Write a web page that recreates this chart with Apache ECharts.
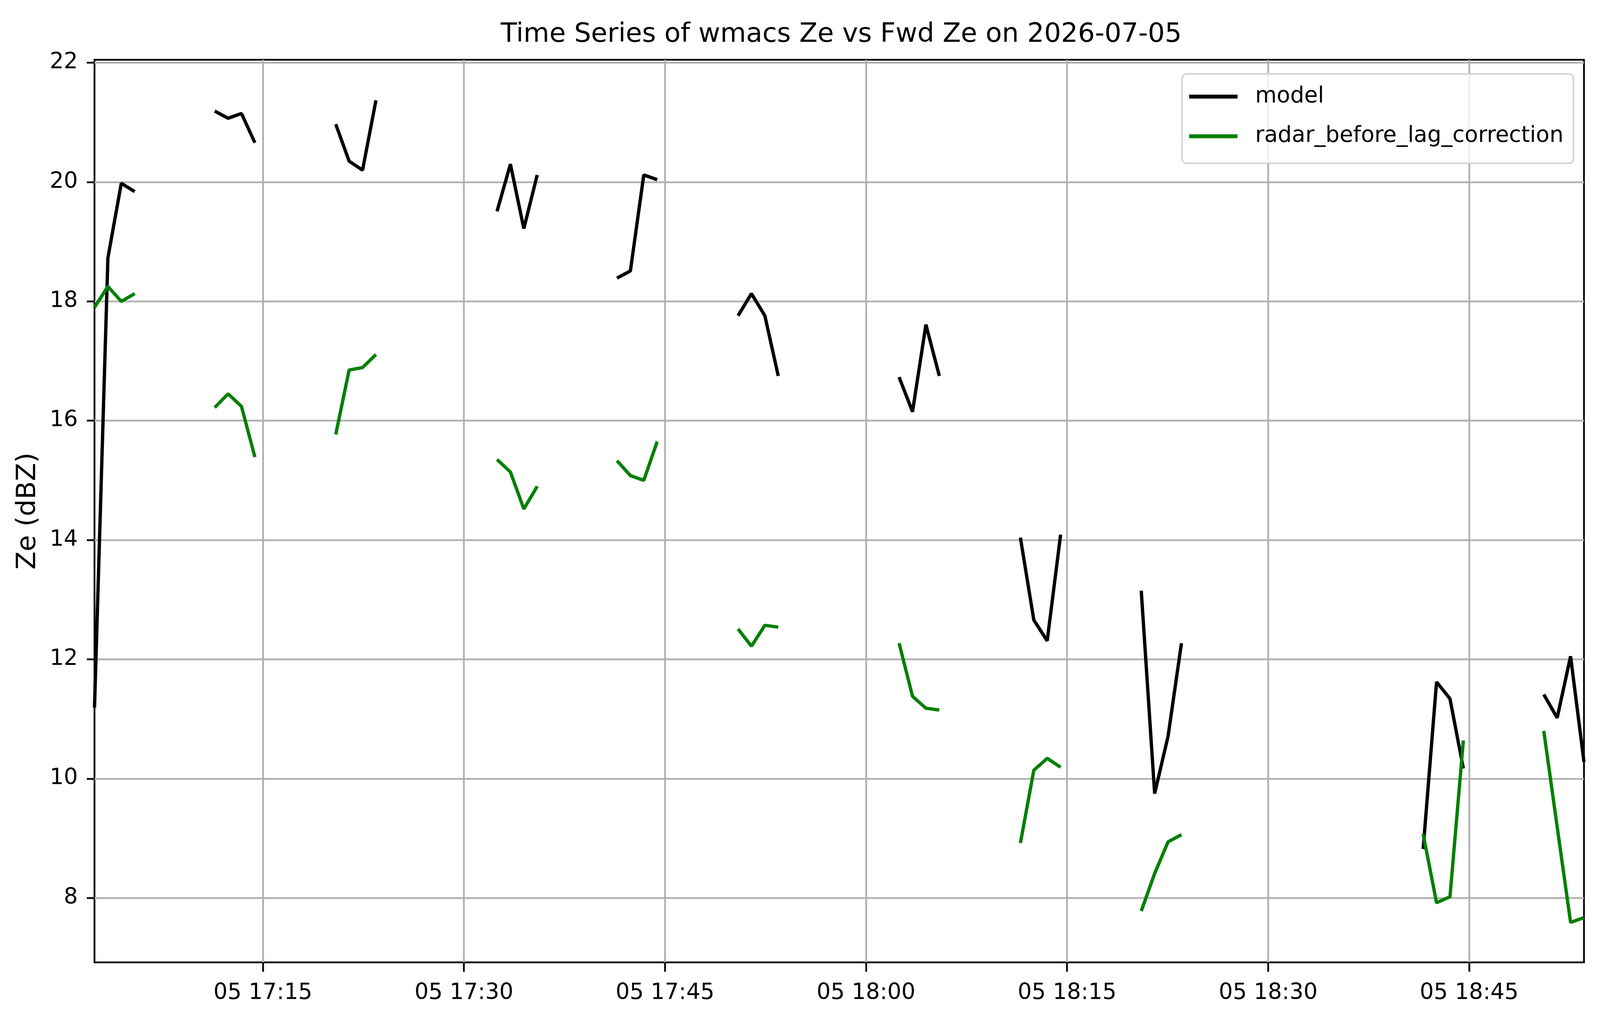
<!DOCTYPE html>
<html>
<head>
<meta charset="utf-8">
<script src="https://cdn.jsdelivr.net/npm/echarts@6/dist/echarts.min.js"></script>
<style>
  html, body { margin: 0; padding: 0; background: #fff; overflow: hidden; }
  #chart { width: 100vw; height: 100vh; }
</style>
</head>
<body>
<div id="chart"></div>
<script>
// timestamps (2026-07-05), one sample per minute in short runs
const day = "2026-07-05"
const times = [
  "17:02:26", "17:03:26", "17:04:26", "17:05:26",
  "17:11:24", "17:12:24", "17:13:24", "17:14:24",
  "17:20:26", "17:21:26", "17:22:26", "17:23:26",
  "17:32:28", "17:33:28", "17:34:28", "17:35:28",
  "17:41:25", "17:42:25", "17:43:25", "17:44:25",
  "17:50:27", "17:51:27", "17:52:27", "17:53:27",
  "18:02:28", "18:03:28", "18:04:28", "18:05:28",
  "18:11:31", "18:12:31", "18:13:31", "18:14:31",
  "18:20:32", "18:21:32", "18:22:32", "18:23:32",
  "18:41:34", "18:42:34", "18:43:34", "18:44:34",
  "18:50:34", "18:51:34", "18:52:34", "18:53:34"
]
const modelZe = [
  11.19, 18.73, 19.98, 19.84,
  21.19, 21.07, 21.15, 20.66,
  20.97, 20.35, 20.20, 21.37,
  19.51, 20.30, 19.22, 20.12,
  18.39, 18.51, 20.12, 20.04,
  17.76, 18.13, 17.76, 16.75,
  16.73, 16.15, 17.61, 16.75,
  14.04, 12.66, 12.31, 14.09,
  13.15, 9.75, 10.71, 12.27,
  8.82, 11.62, 11.34, 10.17,
  11.41, 11.02, 12.05, 10.28
]
const radarZe = [
  17.90, 18.25, 18.00, 18.13,
  16.22, 16.45, 16.24, 15.39,
  15.77, 16.85, 16.89, 17.11,
  15.35, 15.14, 14.52, 14.90,
  15.33, 15.08, 15.00, 15.65,
  12.51, 12.22, 12.57, 12.54,
  12.27, 11.38, 11.18, 11.15,
  8.92, 10.14, 10.34, 10.19,
  7.78, 8.41, 8.94, 9.06,
  9.07, 7.92, 8.02, 10.64,
  10.80, 9.19, 7.59, 7.67
]
const xTicks = ["17:15", "17:30", "17:45", "18:00", "18:15", "18:30", "18:45"]
const yTicks = [8, 10, 12, 14, 16, 18, 20, 22]

const toMs = (t) => echarts.number.parseDate(day + " " + (t.length === 5 ? t + ":00" : t)).getTime()
const xs = times.map(toMs)
const xTickMs = xTicks.map(toMs)

// missing minutes are NaN in the source, so break the line where samples are far apart
function buildSeries(values) {
  const out = []
  for (let i = 0; i < xs.length; i++) {
    if (i > 0 && xs[i] - xs[i - 1] > 2 * 60 * 1000) {
      out.push([(xs[i] + xs[i - 1]) / 2, null])
    }
    out.push([xs[i], values[i]])
  }
  return out
}

const pad2 = (n) => (n < 10 ? "0" : "") + n
const font = "DejaVu Sans"

var chartDom = document.getElementById("chart")
var myChart = echarts.init(chartDom)

// layout was measured on a 4995x2631 canvas, scale it to whatever the page really is
function buildOption() {
  const sx = chartDom.clientWidth / 4995
  const sy = chartDom.clientHeight / 2631
  const k = Math.min(sx, sy)
  const tickFont = 69 * k
  const bigFont = 83 * k
  const axisStyle = {
    axisLine: { show: false },
    splitLine: { show: true, lineStyle: { color: "#b0b0b0", width: 5.5 * k } }
  }
  return {
    animation: false,
    backgroundColor: "#ffffff",
    title: {
      text: "Time Series of wmacs Ze vs Fwd Ze on 2026-07-05",
      left: 2620 * sx,
      textAlign: "center",
      top: 88 * sy - 0.55 * bigFont,
      textStyle: { fontFamily: font, fontSize: bigFont, fontWeight: "normal", color: "#000" }
    },
    legend: {
      orient: "vertical",
      right: 83 * sx,
      top: 189 * sy,
      icon: "rect",
      itemWidth: 151 * sx,
      itemHeight: 10 * sy,
      itemGap: 101 * sy - tickFont,
      padding: [58 * sy - tickFont / 2, 31 * sx, 69 * sy - tickFont / 2, 22 * sx],
      backgroundColor: "rgba(255,255,255,0.8)",
      borderColor: "#d5d5d5",
      borderWidth: 5 * k,
      borderRadius: 14 * k,
      textStyle: { fontFamily: font, fontSize: tickFont, color: "#000", padding: [0, 0, 0, 49 * sx] },
      data: ["model", "radar_before_lag_correction"]
    },
    grid: {
      left: 295 * sx,
      right: 50 * sx,
      top: 153 * sy,
      bottom: 168 * sy,
      show: true,
      borderColor: "#000",
      borderWidth: 5.5 * k,
      backgroundColor: "transparent"
    },
    xAxis: Object.assign({
      type: "value",
      min: xs[0],
      max: xs[xs.length - 1],
      axisTick: {
        show: true,
        length: 24 * sy,
        lineStyle: { color: "#000", width: 5.5 * k },
        customValues: xTickMs
      },
      axisLabel: {
        customValues: xTickMs,
        margin: 79 * sy - tickFont / 2,
        fontFamily: font,
        fontSize: tickFont,
        color: "#000",
        formatter: (v) => {
          const d = new Date(v)
          return pad2(d.getDate()) + " " + pad2(d.getHours()) + ":" + pad2(d.getMinutes())
        }
      }
    }, axisStyle),
    yAxis: Object.assign({
      type: "value",
      min: 6.92,
      max: 22.05,
      name: "Ze (dBZ)",
      nameLocation: "middle",
      nameGap: 207 * sx - bigFont / 2,
      nameTextStyle: { fontFamily: font, fontSize: bigFont, color: "#000" },
      axisTick: {
        show: true,
        length: 24 * sx,
        lineStyle: { color: "#000", width: 5.5 * k },
        customValues: yTicks
      },
      axisLabel: {
        customValues: yTicks,
        margin: 52 * sx,
        fontFamily: font,
        fontSize: tickFont,
        color: "#000"
      }
    }, axisStyle),
    series: [
      {
        name: "model",
        type: "line",
        data: buildSeries(modelZe),
        showSymbol: false,
        symbol: "none",
        connectNulls: false,
        color: "#000000",
        lineStyle: { color: "#000000", width: 10.4 * k }
      },
      {
        name: "radar_before_lag_correction",
        type: "line",
        data: buildSeries(radarZe),
        showSymbol: false,
        symbol: "none",
        connectNulls: false,
        color: "#008000",
        lineStyle: { color: "#008000", width: 10.4 * k }
      }
    ]
  }
}

myChart.setOption(buildOption())

window.onresize = () => {
  myChart.resize()
  myChart.setOption(buildOption())
}
</script>
</body>
</html>
